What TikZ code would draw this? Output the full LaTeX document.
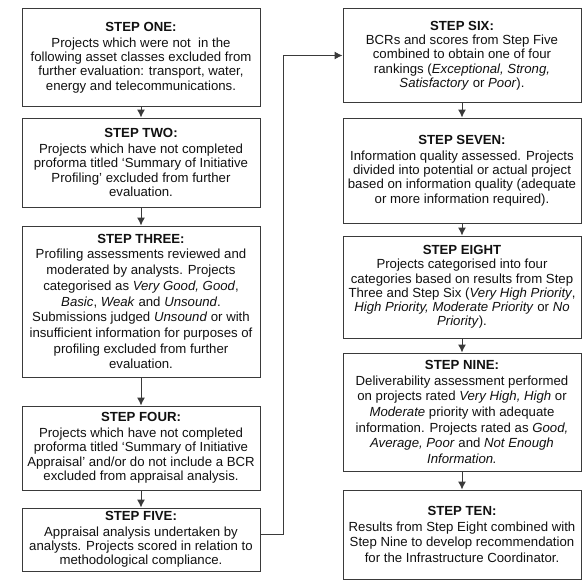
\documentclass[tikz,border=0pt]{standalone}
\usepackage{fontspec}
\setmainfont{Liberation Sans}
\usepackage{tikz}
\usepackage{xcolor}
\usetikzlibrary{arrows.meta}
\newlength{\boxwidth}
\newlength{\turnshift}
\setlength{\boxwidth}{238pt}
\setlength{\turnshift}{23pt}
\definecolor{background}{RGB}{255, 255, 255}
\definecolor{boxline}{HTML}{3A3A3A}
\definecolor{mainfont}{HTML}{111111}
\tikzset{
  stepbox/.style={draw=boxline, line width=1pt, fill=background, minimum width=\boxwidth,
    inner sep=0pt, align=center, text=mainfont,
    font=\fontsize{13.2}{14.3}\selectfont},
  widestep/.style={stepbox, font=\fontsize{13.2}{15.7}\selectfont},
  flow/.style={draw=boxline, line width=1pt, -{Latex[length=8pt,width=8pt]}}
}

\begin{document}
\begin{tikzpicture}[x=1pt,y=1pt]
				% Boundary box
				\fill[background] (0,0) rectangle (586,-586);
				\useasboundingbox (0,0) rectangle (586,-586);

				% Left column of steps
				\node[stepbox, minimum height=97pt] (one) at (141,-57.5) {\textbf{STEP ONE:}\\[1.5pt]
					Projects which were not\ \ in the\\
					following asset classes excluded from\\
					further evaluation: transport, water,\\
					energy and telecommunications.};
				\node[stepbox, minimum height=89pt] (two) at (141,-162.5) {\textbf{STEP TWO:}\\[1.5pt]
					Projects which have not completed\\
					proforma titled ‘Summary of Initiative\\
					Profiling’ excluded from further\\
					evaluation.};
				\node[widestep, minimum height=151pt] (three) at (141,-301.5) {\textbf{STEP THREE:}\\
					Profiling assessments reviewed and\\
					moderated by analysts. Projects\\
					categorised as \textit{Very Good, Good},\\
					\textit{Basic}, \textit{Weak} and \textit{Unsound}.\\
					Submissions judged \textit{Unsound} or with\\
					insufficient information for purposes of\\
					profiling excluded from further\\
					evaluation.};
				\node[stepbox, minimum height=84pt] (four) at (141,-448) {\textbf{STEP FOUR:}\\[1.5pt]
					Projects which have not completed\\
					proforma titled ‘Summary of Initiative\\
					Appraisal’ and/or do not include a BCR\\
					excluded from appraisal analysis.};
				\node[stepbox, minimum height=63pt] (five) at (141,-539.5) {\textbf{STEP FIVE:}\\[1pt]
					Appraisal analysis undertaken by\\
					analysts. Projects scored in relation to\\
					methodological compliance.};

				% Right column of steps
				\node[stepbox, minimum height=93pt] (six) at (462,-55.5) {\textbf{STEP SIX:}\\
					BCRs and scores from Step Five\\
					combined to obtain one of four\\
					rankings (\textit{Exceptional, Strong,}\\
					\textit{Satisfactory} or \textit{Poor}).};
				\node[stepbox, minimum height=105pt] (seven) at (462,-170.5) {\textbf{STEP SEVEN:}\\[1.5pt]
					Information quality assessed. Projects\\
					divided into potential or actual project\\
					based on information quality (adequate\\
					or more information required).};
				\node[stepbox, minimum height=102pt] (eight) at (462,-287) {\textbf{STEP EIGHT}\\
					Projects categorised into four\\
					categories based on results from Step\\
					Three and Step Six (\textit{Very High Priority},\\
					\textit{High Priority, Moderate Priority} or \textit{No}\\
					\textit{Priority}).};
				\node[widestep, minimum height=118pt] (nine) at (462,-412) {\textbf{STEP NINE:}\\
					Deliverability assessment performed\\
					on projects rated \textit{Very High, High} or\\
					\textit{Moderate} priority with adequate\\
					information. Projects rated as \textit{Good,}\\
					\textit{Average, Poor} and \textit{Not Enough}\\
					\textit{Information.}};
				\node[widestep, minimum height=89pt] (ten) at (462,-534.5) {\textbf{STEP TEN:}\\
					Results from Step Eight combined with\\
					Step Nine to develop recommendation\\
					for the Infrastructure Coordinator.};

				% Arrows between steps
				\foreach \from/\to in {one/two, two/three, three/four, four/five,
					six/seven, seven/eight, eight/nine, nine/ten}
					\draw[flow] (\from.south) -- (\to.north);

				% Link from the bottom of the left column to the top of the right one
				\draw[flow] ([yshift=5pt]five.east) -- ++(\turnshift,0) |- (six.west);
			\end{tikzpicture}
\end{document}
